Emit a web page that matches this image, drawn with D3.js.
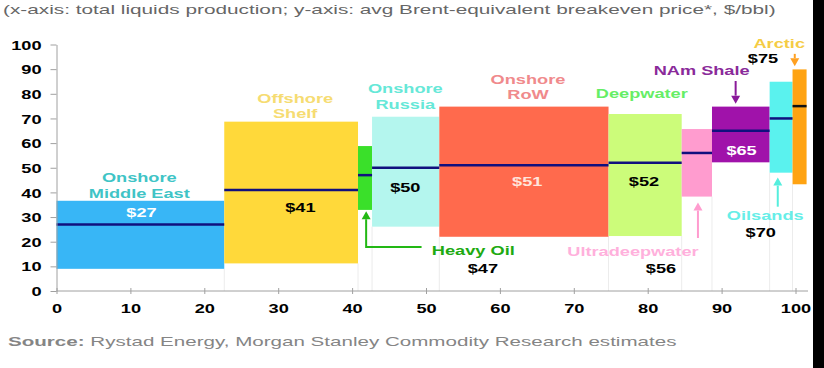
<!DOCTYPE html>
<html><head><meta charset="utf-8">
<script src="https://cdn.jsdelivr.net/npm/d3@7"></script>
<style>body{margin:0;background:#fff}svg{display:block}text{font-family:"Liberation Sans",Arial,sans-serif}</style>
</head><body>
<svg id="c" width="824" height="368"></svg>
<script>
// ---------------- data ----------------
const categories = ["Onshore Middle East","Offshore Shelf","Heavy Oil","Onshore Russia","Onshore RoW","Deepwater","Ultradeepwater","NAm Shale","Oilsands","Arctic"];
const production = [22.7, 18.1, 1.9, 9.1, 22.9, 9.9, 4.1, 7.8, 3.1, 1.9];   // width, total liquids production
const lowPrice   = [9.0, 11.2, 32.9, 26.1, 22.0, 22.3, 38.3, 52.2, 48.0, 43.3];
const highPrice  = [36.6, 68.7, 58.8, 70.7, 74.8, 71.8, 65.7, 74.8, 84.9, 89.9];
const avgPrice   = [27, 41, 47, 50, 51, 52, 56, 65, 70, 75];
const xTicks = [0,10,20,30,40,50,60,70,80,90,100];
const yTicks = [0,10,20,30,40,50,60,70,80,90,100];
const titleText = "(x-axis: total liquids production; y-axis: avg Brent-equivalent breakeven price*, $/bbl)";
const sourceBold = "Source:";
const sourceRest = " Rystad Energy, Morgan Stanley Commodity Research estimates";

// ---------------- styles / layout ----------------
const barColors   = ["#38b6f6","#ffd93a","#3ae02a","#b4f6ee","#ff6a4d","#ccfc7a","#ff9ccf","#a012aa","#5af2ee","#ffa312"];
const labelColors = ["#3fc4c6","#f6dc72","#20aa12","#66e8d8","#f08a8c","#66ee66","#ffb0dc","#8a2a9a","#66eee8","#f5cc44"];
const valueColors = ["#ffffff","#000","#000","#000","#ffe4dc","#000","#000","#ffffff","#000","#000"];
const meanColors  = ["#10107e","#10107e","#10107e","#10107e","#10107e","#10107e","#10107e","#10107e","#10107e","#111111"];
// label anchors in data units (x: production, y: $/bbl)
const nameLines = [["Onshore","Middle East"],["Offshore","Shelf"],["Heavy Oil"],["Onshore","Russia"],["Onshore","RoW"],["Deepwater"],["Ultradeepwater"],["NAm Shale"],["Oilsands"],["Arctic"]];
const nameAt  = [[11.2,44.2],[32.3,76.3],[56.4,14.6],[47.2,80.3],[63.8,84.0],[79.2,78.3],[78.0,14.2],[87.3,87.6],[95.9,28.8],[97.8,98.6]];
const valueAt = [[11.5,30.0],[33.0,32.0],[57.7,7.3],[47.2,40.2],[63.7,42.6],[79.5,42.6],[81.8,7.3],[92.7,55.2],[95.3,21.9],[95.6,92.5]];
// arrows: polyline points in data units, last point is the head
const arrows = [
  {i:2, pts:[[49.4,17.8],[41.9,17.8],[41.9,32.4]]},
  {i:6, pts:[[86.8,21.5],[86.8,35.9]]},
  {i:7, pts:[[91.9,85.2],[91.9,76.0]]},
  {i:8, pts:[[97.6,34.2],[97.6,46.0]]},
  {i:9, pts:[[99.9,96.2],[99.9,91.2]]}
];
const arrowColors = {2:"#22b814",6:"#ff9ccf",7:"#8a1a9a",8:"#55eedd",9:"#ffa020"};
const K = 1.4; // horizontal stretch of the reference's text

const svg = d3.select("#c");
const x = d3.scaleLinear().domain([0,100]).range([56.5,795.5]);
const y = d3.scaleLinear().domain([0,100]).range([291,44.5]);

const x0 = []; const x1 = [];
production.reduce((acc,w,i)=>{x0[i]=acc; x1[i]=acc+w; return acc+w;},0);

function place(sel, px, py, k){ sel.attr("x",0).attr("y",0).attr("transform",`translate(${px},${py}) scale(${k},1)`); return sel; }

// separators
const g = svg.append("g");
x1.slice(0,-1).forEach((v,i)=>{
  const bottom = Math.min(lowPrice[i], lowPrice[i+1]);
  g.append("line").attr("x1",x(v)).attr("x2",x(v)).attr("y1",y(0)).attr("y2",y(bottom))
   .attr("stroke","#ececec").attr("stroke-width",1);
});

// bars
g.selectAll("rect.bar").data(categories).join("rect").attr("class","bar")
 .attr("x",(d,i)=>x(x0[i])).attr("width",(d,i)=>x(x1[i])-x(x0[i]))
 .attr("y",(d,i)=>y(highPrice[i])).attr("height",(d,i)=>y(lowPrice[i])-y(highPrice[i]))
 .attr("fill",(d,i)=>barColors[i]);

// mean lines
g.selectAll("line.mean").data(categories).join("line").attr("class","mean")
 .attr("x1",(d,i)=>x(x0[i])).attr("x2",(d,i)=>x(x1[i]))
 .attr("y1",(d,i)=>y(avgPrice[i])).attr("y2",(d,i)=>y(avgPrice[i]))
 .attr("stroke",(d,i)=>meanColors[i]).attr("stroke-width",2.5);

// axes
const ya = svg.append("g").attr("transform",`translate(${x(0)},0)`)
  .call(d3.axisLeft(y).tickValues(yTicks).tickSizeInner(6).tickSizeOuter(0));
ya.select(".domain").attr("stroke","#a0a0a0");
ya.selectAll(".tick line").attr("stroke","#a0a0a0");
ya.selectAll(".tick text").each(function(){
  d3.select(this).attr("dy",null).attr("dominant-baseline",null);
  place(d3.select(this),-15,4.6,K);
}).attr("font-size",13).attr("font-weight","bold").attr("fill","#000").attr("text-anchor","end");

const xa = svg.append("g").attr("transform",`translate(0,${y(0)})`)
  .call(d3.axisBottom(x).tickValues(xTicks).tickSizeInner(3).tickSizeOuter(0));
xa.select(".domain").remove();
xa.append("line").attr("x1",x(0)).attr("x2",808).attr("y1",0).attr("y2",0).attr("stroke","#a0a0a0");
xa.selectAll(".tick line").attr("stroke","#a0a0a0").attr("y1",-3).attr("y2",3);
xa.selectAll(".tick text").each(function(){
  d3.select(this).attr("dy",null);
  place(d3.select(this),0,22,K);
}).attr("font-size",13).attr("font-weight","bold").attr("fill","#000").attr("text-anchor","middle");

// category labels
categories.forEach((c,i)=>{
  nameLines[i].forEach((ln,j)=>{
    const t = svg.append("text").text(ln).attr("font-size",13).attr("font-weight","bold")
      .attr("fill",labelColors[i]).attr("text-anchor","middle");
    place(t, x(nameAt[i][0]), y(nameAt[i][1]) + j*15.5, K);
  });
  const v = svg.append("text").text("$"+avgPrice[i]).attr("font-size",13).attr("font-weight","bold")
    .attr("fill",valueColors[i]).attr("text-anchor","middle");
  place(v, x(valueAt[i][0]), y(valueAt[i][1]), K);
});

// arrows
arrows.forEach(a=>{
  const col = arrowColors[a.i];
  const pts = a.pts.map(p=>[x(p[0]),y(p[1])]);
  const n = pts.length;
  const [hx,hy] = pts[n-1], [px,py] = pts[n-2];
  const dx = hx-px, dy = hy-py, L = Math.hypot(dx,dy), ux = dx/L, uy = dy/L;
  const hl = 8, hw = 4.5;
  const linePts = pts.slice(0,-1).concat([[hx-ux*hl, hy-uy*hl]]);
  svg.append("path").attr("d",d3.line()(linePts)).attr("fill","none").attr("stroke",col).attr("stroke-width",2);
  const bx = hx-ux*hl, by = hy-uy*hl;
  svg.append("path").attr("d",`M${hx},${hy}L${bx-uy*hw},${by+ux*hw}L${bx+uy*hw},${by-ux*hw}Z`).attr("fill",col);
});

// title
const tt = svg.append("text").text(titleText).attr("font-size",13).attr("fill","#666");
place(tt,3,14,1);
const tw = tt.node().getComputedTextLength();
place(tt,3,14,773/tw);

// source
const st = svg.append("text").attr("font-size",13).attr("fill","#858585");
st.append("tspan").attr("font-weight","bold").text(sourceBold);
st.append("tspan").text(sourceRest);
place(st,8,346,1);
const sw = st.node().getComputedTextLength();
place(st,8,346,669/sw);

// dark edge at the right of the reference
svg.append("rect").attr("x",813).attr("y",0).attr("width",11).attr("height",368).attr("fill","#000");
</script>
</body></html>
